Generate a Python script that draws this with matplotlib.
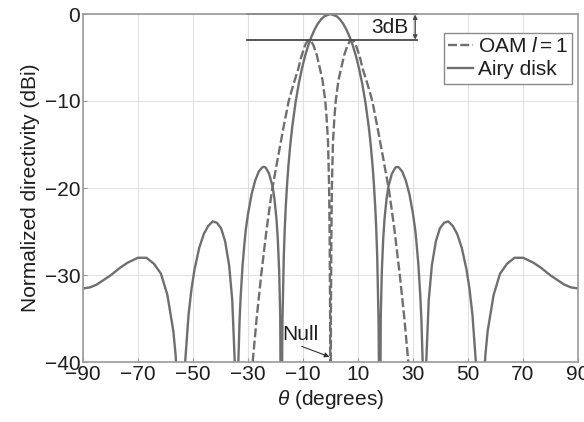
import matplotlib
matplotlib.use('Agg')
import matplotlib.pyplot as plt
import numpy as np

plt.rcParams['font.family'] = ['Liberation Sans', 'DejaVu Sans']
plt.rcParams['mathtext.fontset'] = 'custom'
plt.rcParams['mathtext.rm'] = 'Liberation Sans'
plt.rcParams['mathtext.it'] = 'Liberation Sans:italic'

# Airy disk pattern, theta >= 0 half (symmetric)
airy_theta = [0.0, 2.29, 3.44, 4.59, 5.74, 6.89, 8.05, 9.21, 10.37, 11.54,
              12.71, 13.89, 14.60, 15.31, 15.78, 16.26, 16.64, 16.98, 17.46,
              17.70, 17.85, 18.28, 18.66, 19.15, 19.63, 20.37, 21.10, 22.33,
              23.58, 24.26, 24.83, 26.10, 27.39, 28.69, 30.0, 30.80, 31.33,
              31.98, 32.68, 33.07, 33.51, 33.89, 34.14, 34.78, 35.73, 36.87,
              38.32, 39.79, 41.30, 42.84, 44.43, 46.05, 47.73, 49.46, 50.53,
              51.62, 53.13, 53.90, 54.48, 54.92, 55.49, 56.30, 57.14, 59.32,
              61.64, 64.16, 66.93, 70.05, 73.74, 76.5, 80.0, 85.0, 87.5, 90.0]
airy_db = [0.0, -0.27, -0.62, -1.11, -1.76, -2.57, -3.57, -4.78, -6.25, -8.01,
           -10.18, -12.91, -14.96, -17.47, -19.54, -22.10, -24.74, -27.78, -35.1,
           -43.4, -60.0, -34.8, -29.63, -25.95, -23.61, -21.29, -19.77, -18.36,
           -17.65, -17.57, -17.63, -18.12, -19.15, -20.70, -22.99, -24.78, -26.50,
           -28.91, -32.56, -35.28, -39.95, -48.1, -60.0, -40.3, -32.86, -28.86,
           -26.12, -24.63, -24.00, -23.84, -24.35, -25.27, -26.87, -29.38, -31.56,
           -34.58, -41.2, -48.8, -60.0, -51.2, -44.2, -39.27, -36.46, -32.29,
           -29.86, -28.72, -28.02, -28.02, -28.58, -29.16, -30.05, -31.10, -31.43,
           -31.54]

# OAM l = 1 pattern, theta >= 0 half (symmetric)
oam_theta = [0.0, 0.15, 0.3, 0.5, 0.9, 1.4, 1.9, 2.9, 3.9, 5.0, 6.2, 7.0, 7.6,
             8.2, 8.9, 9.6, 10.7, 11.8, 13.5, 15.2, 17.0, 19.0, 21.3, 23.3,
             25.2, 26.8, 28.3, 29.5, 30.5]
oam_db = [-60.0, -34.0, -26.0, -20.0, -14.7, -12.0, -10.0, -7.6, -6.2, -4.7,
          -3.6, -3.15, -3.0, -3.05, -3.35, -3.9, -5.0, -6.4, -8.1, -10.0,
          -12.9, -16.3, -20.3, -24.9, -30.0, -34.8, -40.0, -45.0, -52.0]

x_ticks = [-90, -70, -50, -30, -10, 10, 30, 50, 70, 90]
y_ticks = [0, -10, -20, -30, -40]


def mirror(theta, vals):
    t = np.array(theta)
    v = np.array(vals)
    return np.concatenate([-t[::-1], t[1:]]), np.concatenate([v[::-1], v[1:]])


airy_x, airy_y = mirror(airy_theta, airy_db)
oam_x, oam_y = mirror(oam_theta, oam_db)

line_col = '#6f6f6f'
text_col = '#1e1e1e'
fs = 15

fig = plt.figure(figsize=(5.84, 4.22), dpi=100)
ax = fig.add_axes([83 / 584, 1 - 362 / 422, 495 / 584, 348 / 422])

ax.plot(oam_x, oam_y, color=line_col, linewidth=1.7,
        linestyle=(0, (3.8, 1.4)), label=r'OAM $l=1$')
ax.plot(airy_x, airy_y, color=line_col, linewidth=1.7, label='Airy disk')

ax.set_xlim(-90, 90)
ax.set_ylim(-40, 0)
ax.set_xticks(x_ticks)
ax.set_yticks(y_ticks)
ax.set_xticklabels([str(t).replace('-', '\u2212') for t in x_ticks])
ax.set_yticklabels([str(t).replace('-', '\u2212') for t in y_ticks])
ax.grid(True, color='#e0e0e0', linewidth=0.8)
ax.set_axisbelow(True)
ax.tick_params(direction='in', length=3, color='#999999', labelsize=fs,
               labelcolor=text_col, pad=2)
for s in ax.spines.values():
    s.set_color('#9a9a9a')
    s.set_linewidth(1.2)

ax.set_xlabel(r'$\theta$ (degrees)', fontsize=fs, color=text_col, labelpad=3)
ax.set_ylabel('Normalized directivity (dBi)', fontsize=fs, color=text_col,
              labelpad=3)

# 3 dB markers
ax.plot([-30.5, 31.3], [0, 0], color='#4a4a4a', linewidth=1.3, clip_on=False)
ax.plot([-30.5, 31.3], [-3, -3], color='#4a4a4a', linewidth=1.3, clip_on=False)
ax.annotate('', xy=(30.8, -0.05), xytext=(30.8, -2.95),
            arrowprops=dict(arrowstyle='<|-|>', color='#4a4a4a', lw=1.0,
                            mutation_scale=6, shrinkA=0, shrinkB=0))
ax.text(28.3, -1.5, '3dB', ha='right', va='center', fontsize=fs, color=text_col)

# null marker
ax.text(-11, -36.8, 'Null', ha='center', va='center', fontsize=fs,
        color=text_col)
ax.annotate('', xy=(-0.4, -39.4), xytext=(-10.5, -38.2),
            arrowprops=dict(arrowstyle='-|>', color='#333333', lw=0.8,
                            mutation_scale=7, shrinkA=0, shrinkB=0))

leg = ax.legend(loc='upper right', bbox_to_anchor=(0.988, 0.945),
                borderaxespad=0, fontsize=fs, handlelength=1.2,
                handletextpad=0.25, labelspacing=0.2, borderpad=0.2,
                fancybox=False, framealpha=1)
leg.get_frame().set_edgecolor('#8a8a8a')
leg.get_frame().set_linewidth(1.0)
for t in leg.get_texts():
    t.set_color(text_col)

fig.savefig('out.png', dpi=100)
